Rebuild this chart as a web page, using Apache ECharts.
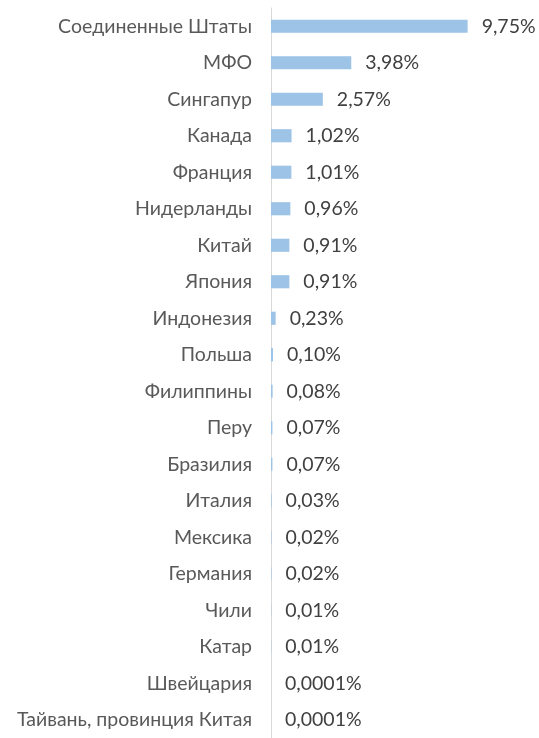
<!DOCTYPE html>
<html><head><meta charset="utf-8">
<script src="https://cdn.jsdelivr.net/npm/echarts@6/dist/echarts.min.js"></script>
<style>html,body{margin:0;padding:0;background:#fff}#c{width:539px;height:738px}</style>
</head><body><div id="c"></div>
<script>
const categories = ["Соединенные Штаты","МФО","Сингапур","Канада","Франция","Нидерланды","Китай","Япония","Индонезия","Польша","Филиппины","Перу","Бразилия","Италия","Мексика","Германия","Чили","Катар","Швейцария","Тайвань, провинция Китая"];
const values = [9.75,3.98,2.57,1.02,1.01,0.96,0.91,0.91,0.23,0.10,0.08,0.07,0.07,0.03,0.02,0.02,0.01,0.01,0.0001,0.0001];
const labels = ["9,75%","3,98%","2,57%","1,02%","1,01%","0,96%","0,91%","0,91%","0,23%","0,10%","0,08%","0,07%","0,07%","0,03%","0,02%","0,02%","0,01%","0,01%","0,0001%","0,0001%"];
const chart = echarts.init(document.getElementById('c'));
const font = 'Lato';
chart.setOption({
  animation:false,
  grid:{left:271,width:242,top:8,height:733,containLabel:false},
  xAxis:{type:'value',min:0,max:12,show:false},
  yAxis:{type:'category',inverse:true,data:categories,
    axisLine:{show:true,lineStyle:{color:'#d9d9d9',width:1}},
    axisTick:{show:false},
    axisLabel:{color:'#595959',fontFamily:font,fontSize:19.5,margin:19}},
  series:[{type:'bar',data:values,barCategoryGap:'64%',
    itemStyle:{color:'#9dc3e6'},
    label:{show:true,position:'right',distance:14,color:'#404040',fontFamily:font,fontSize:19.5,
      formatter:p=>labels[p.dataIndex]}}]
});
</script></body></html>
